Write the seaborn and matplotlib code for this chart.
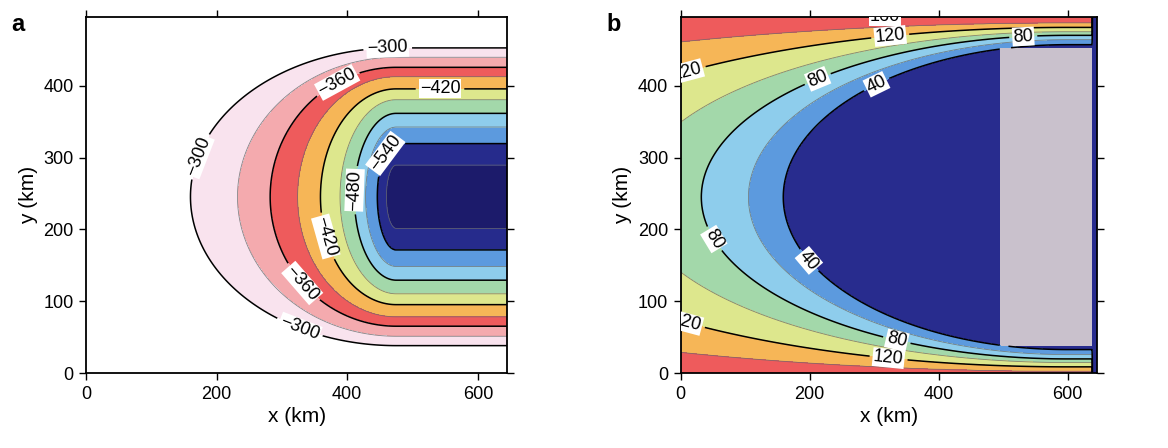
import numpy as np
import matplotlib
matplotlib.use("Agg")
import matplotlib.pyplot as plt
import seaborn as sns

# ---------------- values ----------------
# panel a: contour levels from the outer ring to the inner one
levels_a = [-300, -330, -360, -390, -420, -450, -480, -510, -540, -570]
nose_a = [160, 232, 282, 324, 359, 389, 411, 428, 446, 460]   # x (km) where each contour cuts the centre line
half_a = [207, 194, 180, 167, 150, 135, 116, 97, 74, 44]      # half width (km) of the flat part on the right
major_a = [-540, -480, -420, -360, -300]
label_pos_a = [(462, 450), (175, 301), (330, 70), (393, 390), (343, 135),
               (542, 395), (366, 190), (404, 255), (463, 304)]
# fill colours, lowest band first (under ... over)
colors_a = ["#1c1b6b", "#262b8c", "#5c9ade", "#8ecdec", "#a3d8aa", "#dde78d",
            "#f6b657", "#ee5b5c", "#f4aaae", "#f9e3ee", "#ffffff"]

# panel b: contour levels from the outer ring to the inner one
levels_b = [160, 140, 120, 100, 80, 60, 40]
nose_b = [-1000, -727, -278, -73, 32, 105, 159]
half_b = [275, 242, 236, 230, 225, 219, 212]
major_b = [40, 80, 120]
label_pos_b = [(10, 420), (324, 476), (322, 19), (10, 74), (213, 408),
               (531, 469), (50, 186), (335, 46), (304, 401), (200, 158)]
colors_b = ["#282c8e", "#5c9ade", "#8ecdec", "#a3d8aa", "#dde78d",
            "#f6b657", "#ee5b5c", "#ee5b5c"]
gray_x = [495, 638]     # grey block in panel b
gray_y = [38, 452]
strip_x = 638           # dark strip on the right edge of panel b

x_max, y_max = 645, 495


def build_field(X, Y, levels, nose, half, x0, yc):
    # each contour is half an ellipse ending in straight lines for x > x0
    a = x0 - np.asarray(nose, float)
    h = np.asarray(half, float)
    dx = np.clip(x0 - X, 0, None)[..., None]
    dy = (Y - yc)[..., None]
    s = 0.5 * np.log((dx / a) ** 2 + (dy / h) ** 2 + 1e-9)
    lv = np.asarray(levels, float)
    k = np.clip((s <= 0).sum(-1) - 1, 0, len(lv) - 2)
    s0 = np.take_along_axis(s, k[..., None], -1)[..., 0]
    s1 = np.take_along_axis(s, k[..., None] + 1, -1)[..., 0]
    t = -s0 / (s1 - s0)
    return lv[k] + (lv[k + 1] - lv[k]) * t


x = np.linspace(0, x_max, 700)
y = np.linspace(0, y_max, 540)
X, Y = np.meshgrid(x, y)

Za = build_field(X, Y, levels_a, nose_a, half_a, 475, 245.5)
Zb = build_field(X, Y, levels_b, nose_b, half_b, 600, 245)
Zb[(X >= gray_x[0]) & (X < gray_x[1]) & (Y >= gray_y[0]) & (Y <= gray_y[1])] = np.nan
Zb[X >= strip_x] = 0

sns.set_theme(style="ticks")
plt.rcParams["font.family"] = ["Liberation Sans", "DejaVu Sans"]
plt.rcParams["contour.negative_linestyle"] = "solid"
plt.rcParams["text.color"] = "black"
plt.rcParams["axes.labelcolor"] = "black"

fig = plt.figure(figsize=(11.68, 4.48), dpi=100)
ax_a = fig.add_axes([0.0736, 0.1667, 0.3607, 0.7946])
ax_b = fig.add_axes([0.5828, 0.1667, 0.3562, 0.7946])

fmt = lambda v: f"{v:.0f}".replace("-", "\u2212")


def draw_panel(ax, Z, levels, major, colors, label_pos):
    lv = sorted(levels)
    minor = [v for v in lv if v not in major]
    ax.contourf(X, Y, Z, levels=lv, colors=colors, extend="both")
    ax.contour(X, Y, Z, levels=minor, colors="#6a6a6a", linewidths=0.6,
               alpha=0.8, linestyles="solid")
    cs = ax.contour(X, Y, Z, levels=sorted(major), colors="black",
                    linewidths=1.1, linestyles="solid")
    ax.set_xlim(0, x_max)
    ax.set_ylim(0, y_max)
    ax.clabel(cs, fmt=fmt, fontsize=13, inline=True, inline_spacing=4,
              manual=label_pos)
    for t in cs.labelTexts:
        t.set_bbox(dict(boxstyle="square,pad=0.05", fc="white", ec="none"))
    ax.set_xticks([0, 200, 400, 600])
    ax.set_yticks([0, 100, 200, 300, 400])
    ax.tick_params(direction="out", top=True, right=True, labeltop=False,
                   labelright=False, length=5, width=1, labelsize=13, pad=4,
                   colors="black")
    for sp in ax.spines.values():
        sp.set_linewidth(1.3)
        sp.set_color("black")
        sp.set_visible(True)
    ax.set_xlabel("x (km)", fontsize=15, labelpad=3)
    ax.set_ylabel("y (km)", fontsize=15, labelpad=4)


draw_panel(ax_a, Za, levels_a, major_a, colors_a, label_pos_a)
ax_b.set_facecolor("#c9c1cc")
draw_panel(ax_b, Zb, levels_b, major_b, colors_b, label_pos_b)
ax_b.text(317, 496, "160", fontsize=13, ha="center", va="center", clip_on=True,
          bbox=dict(boxstyle="square,pad=0.05", fc="white", ec="none"))

fig.text(0.010, 0.9315, "a", fontsize=17, fontweight="bold", ha="left", va="baseline")
fig.text(0.519, 0.9315, "b", fontsize=17, fontweight="bold", ha="left", va="baseline")

fig.savefig("out.png", dpi=100)
